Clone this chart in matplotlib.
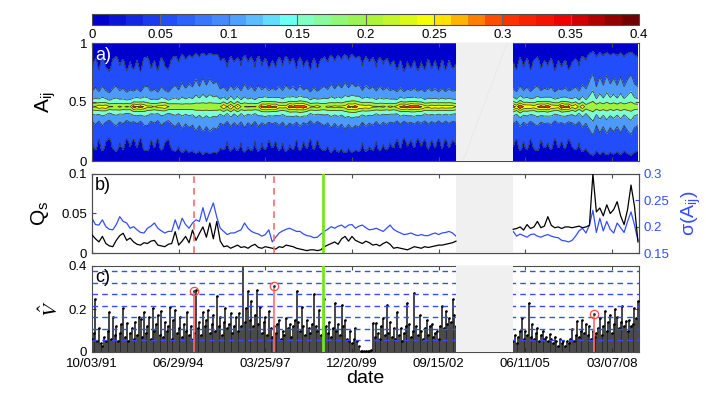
import matplotlib
matplotlib.use('Agg')
import matplotlib.pyplot as plt
import numpy as np
from matplotlib.colors import LinearSegmentedColormap, Normalize
from matplotlib.cm import ScalarMappable

plt.rcParams['font.family'] = ['Liberation Sans', 'DejaVu Sans']
plt.rcParams['mathtext.fontset'] = 'custom'
plt.rcParams['mathtext.rm'] = 'Liberation Sans'
plt.rcParams['mathtext.it'] = 'Liberation Sans:italic'

# ---- data (days counted from 10/03/91) ----
tick_days = [0, 1000, 2000, 3000, 4000, 5000, 6000]
tick_labels = ['10/03/91', '06/29/94', '03/25/97', '12/20/99', '09/15/02', '06/11/05', '03/07/08']
x_end = 6312
gap = (4200, 4860)
crisis_days = [1172, 2095]
green_day = 2670

# panel a: distribution of A_ij (two profile shapes on a y grid, weights per 40-day column)
y_grid = np.linspace(0, 1, 51)
tail_prof = [.14, .18, .24, .30, .35, .38, .40, .41, .42, .44, .47, .52, .57, .61, .65, .69,
             .73, .78, .83, .87, .91, .95, .99, 1.0, .99, .96, .92, .88, .85, .81, .76, .72, .68,
             .65, .62, .59, .56,
             .50, .46, .44, .42, .41, .40, .38, .36, .33, .28, .22, .17, .13, .10]
core_prof = [0, 0, 0, 0, 0, 0, 0, 0, 0, 0, 0, 0, .005, .01, .02, .035, .05, .08, .13, .21, .30, .45,
             .70, 1.0, .70, .45, .30, .21, .13, .08, .05, .035, .02, .01, .005, 0, 0, 0, 0, 0, 0, 0,
             0, 0, 0, 0, 0, 0, 0, 0, 0]
a_tail1 = [0.115, 0.135, 0.112, 0.14, 0.118, 0.108, 0.13, 0.142, 0.12, 0.132, 0.11,
           0.125, 0.112, 0.128, 0.108, 0.135, 0.14, 0.115, 0.128, 0.11, 0.138, 0.12, 0.112, 0.132,
           0.145, 0.125, 0.155, 0.132, 0.15, 0.138, 0.165, 0.14, 0.17, 0.145, 0.168, 0.15, 0.158, 0.128,
           0.135, 0.118, 0.142, 0.125, 0.138, 0.12, 0.15, 0.125, 0.14, 0.118, 0.145, 0.12, 0.135, 0.115, 0.128,
           0.118, 0.138, 0.12, 0.145, 0.122, 0.135, 0.115, 0.14, 0.118, 0.13, 0.112, 0.135, 0.115, 0.13,
           0.14, 0.125, 0.15, 0.128, 0.148, 0.132, 0.155, 0.13, 0.152, 0.135, 0.145, 0.12, 0.142, 0.125,
           0.138, 0.118, 0.14, 0.122, 0.135, 0.12,
           0.128, 0.112, 0.13, 0.108, 0.125, 0.115, 0.128, 0.11, 0.125, 0.112, 0.132, 0.115, 0.128, 0.11,
           0.13, 0.112, 0.128, 0.115, 0.122]
a_peak1 = [0.15, 0.12, 0.175, 0.13, 0.17, 0.145, 0.12, 0.10, 0.14, 0.11, 0.15,
           0.12, 0.21, 0.17, 0.215, 0.16, 0.12, 0.15, 0.12, 0.16, 0.13, 0.17, 0.14, 0.11,
           0.09, 0.12, 0.07, 0.11, 0.08, 0.10, 0.07, 0.11, 0.065, 0.10, 0.07, 0.095, 0.08, 0.12,
           0.16, 0.13, 0.16, 0.12, 0.165, 0.13, 0.10, 0.13, 0.11, 0.135, 0.10, 0.20, 0.17, 0.215, 0.18,
           0.20, 0.13, 0.155, 0.12, 0.21, 0.175, 0.22, 0.18, 0.22, 0.17, 0.15, 0.12, 0.16, 0.12,
           0.10, 0.14, 0.105, 0.14, 0.11, 0.13, 0.115, 0.19, 0.15, 0.19, 0.14, 0.165, 0.13, 0.16,
           0.12, 0.14, 0.11, 0.14, 0.11, 0.145,
           0.12, 0.16, 0.18, 0.215, 0.18, 0.22, 0.19, 0.215, 0.18, 0.16, 0.13, 0.17, 0.145, 0.175,
           0.14, 0.17, 0.145, 0.16, 0.13]
a_tail2 = [0.125, 0.112, 0.138, 0.118, 0.135, 0.112, 0.13, 0.14, 0.115, 0.128, 0.12, 0.135, 0.11,
           0.128, 0.118, 0.13, 0.112, 0.125, 0.135, 0.12, 0.145, 0.13, 0.16, 0.19, 0.14, 0.175, 0.145,
           0.18, 0.15, 0.17, 0.145, 0.175, 0.14, 0.165, 0.185, 0.15, 0.14]
a_peak2 = [0.20, 0.17, 0.21, 0.18, 0.15, 0.18, 0.14, 0.16, 0.21, 0.18, 0.215, 0.15, 0.175, 0.14,
           0.22, 0.18, 0.21, 0.14, 0.16, 0.12, 0.14, 0.10, 0.08, 0.05, 0.09, 0.06, 0.09, 0.055,
           0.08, 0.065, 0.085, 0.06, 0.095, 0.07, 0.05, 0.08, 0.09]

# panel b: Q_s (left) and sigma(A_ij) (right), every 40 days
qs1 = [.023, .018, .014, .021, .012, .009, .008, .016, .022, .025, .016, .019, .014, .011, .010,
       .013, .012, .015, .016, .010, .009, .008, .011, .012, .027, .010, .015, .021, .013, .029,
       .016, .025, .033, .020, .038, .018, .040, .015, .008, .009, .006, .008, .010, .007, .008,
       .006, .009, .011, .007, .006, .008, .007, .006, .005, .008, .007, .010, .009, .008, .006,
       .005, .004, .003, .004, .004, .003, .004, .008, .010, .012, .014, .011, .018, .021, .015,
       .021, .016, .014, .012, .015, .013, .010, .011, .009, .012, .014, .011, .006, .007, .006,
       .005, .004, .006, .008, .007, .006, .008, .007, .008, .009, .010, .010, .011, .012, .013, .015]
qs2 = [.030, .031, .033, .029, .036, .031, .033, .040, .032, .034, .046, .035, .032, .033, .031,
       .033, .033, .032, .033, .034, .032, .033, .035, .100, .052, .057, .047, .061, .050, .055,
       .065, .047, .036, .055, .086, .059, .014]
sig1 = [.216, .204, .203, .213, .200, .195, .194, .204, .219, .210, .207, .197, .200, .194, .189,
        .188, .197, .201, .207, .197, .192, .188, .191, .191, .213, .195, .216, .204, .197, .207,
        .213, .210, .236, .210, .228, .245, .218, .197, .191, .185, .188, .188, .191, .194, .207,
        .197, .191, .188, .186, .182, .185, .194, .171, .180, .188, .192, .195, .197, .194, .191,
        .191, .186, .183, .182, .179, .180, .186, .191, .195, .200, .197, .201, .203, .198, .203,
        .204, .197, .201, .203, .198, .194, .195, .197, .194, .191, .197, .203, .195, .191, .188,
        .185, .186, .188, .185, .183, .185, .183, .183, .186, .188, .185, .188, .189, .191, .188, .182]
sig2 = [.191, .182, .186, .183, .180, .185, .186, .182, .180, .183, .185, .182, .180, .179, .174,
        .173, .171, .174, .182, .192, .197, .188, .203, .231, .189, .216, .192, .210, .195, .188,
        .207, .198, .189, .210, .228, .203, .174]

# panel c: V-hat, every 20 days
v1 = [0.06, 0.09, 0.245, 0.05, 0.11, 0.04, 0.03, 0.07, 0.05, 0.10,
      0.185, 0.06, 0.165, 0.08, 0.12, 0.05, 0.09, 0.13, 0.205, 0.07,
      0.133, 0.05, 0.09, 0.11, 0.06, 0.14, 0.08, 0.165, 0.155, 0.07,
      0.188, 0.09, 0.12, 0.165, 0.06, 0.204, 0.10, 0.13, 0.17, 0.08,
      0.19, 0.07, 0.14, 0.10, 0.12, 0.21, 0.06, 0.15, 0.196, 0.09,
      0.11, 0.165, 0.07, 0.13, 0.10, 0.188, 0.08, 0.12, 0.06, 0.09,
      0.29, 0.11, 0.14, 0.08, 0.188, 0.12, 0.15, 0.196, 0.09, 0.13,
      0.17, 0.10, 0.26, 0.12, 0.165, 0.08, 0.14, 0.204, 0.11, 0.13,
      0.18, 0.09, 0.12, 0.165, 0.10, 0.18, 0.12, 0.41, 0.14, 0.204,
      0.284, 0.15, 0.235, 0.12, 0.17, 0.29, 0.13, 0.21, 0.09, 0.14,
      0.165, 0.08, 0.19, 0.11, 0.07, 0.12, 0.09, 0.13, 0.15, 0.06,
      0.10, 0.08, 0.16, 0.11, 0.13, 0.07, 0.12, 0.15, 0.284, 0.14,
      0.10, 0.21, 0.12, 0.08, 0.15, 0.11, 0.09, 0.13, 0.268, 0.12,
      0.10, 0.196, 0.08, 0.11, 0.245, 0.12, 0.09, 0.14, 0.07, 0.11,
      0.227, 0.10, 0.13, 0.08, 0.22, 0.12, 0.15, 0.06, 0.05, 0.10,
      0.04, 0.06, 0.11, 0.05, 0.03, 0.005, 0.005, 0.004, 0.005, 0.006,
      0.005, 0.008, 0.135, 0.07, 0.135, 0.09, 0.06, 0.12, 0.16, 0.08,
      0.22, 0.09, 0.14, 0.07, 0.11, 0.06, 0.188, 0.08, 0.11, 0.05,
      0.09, 0.12, 0.227, 0.13, 0.07, 0.10, 0.276, 0.12, 0.08, 0.174,
      0.10, 0.06, 0.11, 0.15, 0.08, 0.12, 0.13, 0.07, 0.09, 0.10,
      0.06, 0.12, 0.215, 0.11, 0.19, 0.13, 0.16, 0.14, 0.245, 0.17, 0.12]
v2 = [0.05, 0.08, 0.04, 0.07, 0.10, 0.158, 0.06, 0.10, 0.08, 0.229,
      0.07, 0.13, 0.06, 0.09, 0.11, 0.05, 0.08, 0.10, 0.06, 0.07,
      0.05, 0.085, 0.06, 0.04, 0.07, 0.05, 0.03, 0.06, 0.04, 0.05,
      0.03, 0.05, 0.04, 0.06, 0.105, 0.05, 0.08, 0.143, 0.07, 0.10,
      0.15, 0.09, 0.13, 0.08, 0.12, 0.06, 0.10, 0.07, 0.09, 0.11,
      0.16, 0.08, 0.12, 0.19, 0.10, 0.14, 0.17, 0.09, 0.13, 0.198,
      0.165, 0.11, 0.14, 0.213, 0.12, 0.143, 0.10, 0.15, 0.12, 0.13, 0.205, 0.16, 0.237]
red_days = [1172, 2095, 5792]
red_vals = [0.282, 0.306, 0.179]
v_levels = [0.054, 0.108, 0.162, 0.216, 0.269, 0.322, 0.375]

days_b1 = np.arange(0, 4201, 40)
days_b2 = np.arange(4860, 6301, 40)
days_c1 = np.arange(0, 4201, 20)
days_c2 = np.arange(4860, 6301, 20)

# ---- colours ----
cb_pos = [0, 0.05, 0.1, 0.125, 0.14, 0.15, 0.2, 0.25, 0.27, 0.3, 0.35, 0.4]
cb_rgb = [(0, 0, 0.8), (0.13, 0.3, 0.98), (0.3, 0.6, 1.0), (0.38, 0.82, 1.0), (0.4, 1.0, 1.0),
          (0.5, 1.0, 0.82), (0.62, 0.95, 0.25), (1.0, 1.0, 0.0), (1.0, 0.72, 0.0),
          (1.0, 0.25, 0.0), (0.93, 0.0, 0.0), (0.45, 0.0, 0.0)]
cmap_fine = LinearSegmentedColormap.from_list('cb', list(zip(np.array(cb_pos) / 0.4, cb_rgb)), N=32)
cmap_full = LinearSegmentedColormap.from_list('cbf', list(zip(np.array(cb_pos) / 0.4, cb_rgb)), N=256)
levels = [0, 0.05, 0.1, 0.15, 0.2, 0.25, 0.3, 0.35, 0.4]
band_colors = [cmap_full(l / 0.4) for l in levels[:-1]]

blue = (0.2, 0.3, 1.0)
red = (1.0, 0.42, 0.42)
green = (0.45, 0.9, 0.1)
gap_col = '0.94'
spine_col = '0.3'

fig = plt.figure(figsize=(7.06, 3.96), dpi=100)
L, W = 92 / 706, 547 / 706
cax = fig.add_axes([L, 1 - 25 / 396, W, 11 / 396])
ax_a = fig.add_axes([L, 1 - 161 / 396, W, 118 / 396])
ax_b = fig.add_axes([L, 1 - 253 / 396, W, 79 / 396])
ax_c = fig.add_axes([L, 1 - 352 / 396, W, 86 / 396])

# colorbar
sm = ScalarMappable(norm=Normalize(0, 0.4), cmap=cmap_fine)
cb = fig.colorbar(sm, cax=cax, orientation='horizontal')
cb.set_ticks(levels)
cb.set_ticklabels(['0', '0.05', '0.1', '0.15', '0.2', '0.25', '0.3', '0.35', '0.4'])
cax.tick_params(length=0, labelsize=9.5, pad=3)
for l in levels[1:-1]:
    cax.axvline(l, color='0.4', lw=0.8)
cb.outline.set_edgecolor('0.3')
cb.outline.set_linewidth(0.8)

# panel a
for d_days, pk, tl in [(days_b1, a_peak1, a_tail1), (days_b2, a_peak2, a_tail2)]:
    Z = np.outer(pk, core_prof) + np.outer(tl, tail_prof)
    ax_a.contourf(d_days, y_grid, Z.T, levels=levels, colors=band_colors)
    ax_a.contour(d_days, y_grid, Z.T, levels=levels[1:-1], colors='0.22', linewidths=0.55)
ax_a.axvspan(*gap, color=gap_col, zorder=5, lw=0)
ax_a.plot([4280, 4790], [0, 1], color='0.9', lw=0.5, zorder=6)
ax_a.set_ylim(0, 1)
ax_a.set_yticks([0, 0.5, 1])
ax_a.set_yticklabels(['0', '0.5', '1'])
ax_a.set_ylabel('A$_{\\mathrm{ij}}$', fontsize=15)
ax_a.yaxis.set_label_coords(-0.062, 0.5)
ax_a.text(0.006, 0.97, 'a)', color='white', fontsize=13, transform=ax_a.transAxes, va='top', zorder=10)

# panel b
ax_b.axvspan(*gap, color=gap_col, lw=0, zorder=0)
ax_b2 = ax_b.twinx()
ax_b2.plot(days_b1, sig1, color=blue, lw=0.9)
ax_b2.plot(days_b2, sig2, color=blue, lw=0.9)
ax_b.plot(days_b1, qs1, color='k', lw=0.9, zorder=3)
ax_b.plot(days_b2, qs2, color='k', lw=0.9, zorder=3)
for d in crisis_days:
    ax_b.axvline(d, color=red, lw=1.2, ls=(0, (4, 3)), zorder=4)
ax_b.axvline(green_day, color=green, lw=2, zorder=4)
ax_b.set_zorder(ax_b2.get_zorder() + 1)
ax_b.patch.set_visible(False)
ax_b.set_ylim(0, 0.1)
ax_b.set_yticks([0, 0.05, 0.1])
ax_b.set_yticklabels(['0', '0.05', '0.1'])
ax_b2.set_ylim(0.15, 0.3)
ax_b2.set_yticks([0.15, 0.2, 0.25, 0.3])
ax_b2.set_yticklabels(['0.15', '0.2', '0.25', '0.3'])
ax_b2.tick_params(axis='y', colors=blue, labelsize=9.5, direction='in', length=3)
ax_b2.set_ylabel('σ(A$_{\\mathrm{ij}}$)', color=blue, fontsize=14, rotation=90)
ax_b2.yaxis.set_label_coords(1.075, 0.5)
for s in ax_b2.spines.values():
    s.set_color(spine_col)
    s.set_linewidth(0.8)
ax_b.set_ylabel('Q$_{\\mathrm{s}}$', fontsize=15)
ax_b.yaxis.set_label_coords(-0.075, 0.5)
ax_b.text(0.006, 0.96, 'b)', color='k', fontsize=13, transform=ax_b.transAxes, va='top')

# panel c
ax_c.vlines(days_c1, 0, v1, color='0.15', lw=1.2, zorder=2)
ax_c.vlines(days_c2, 0, v2, color='0.15', lw=1.2, zorder=2)
ax_c.plot(days_c1, v1, 'k.', ms=1.8, zorder=3)
ax_c.plot(days_c2, v2, 'k.', ms=1.8, zorder=3)
for lv in v_levels:
    ax_c.axhline(lv, color=blue, lw=1.0, ls=(0, (4, 3)), zorder=4)
ax_c.vlines(red_days, 0, red_vals, color=red, lw=1.2, zorder=5)
ax_c.plot(red_days, red_vals, 'o', mfc='none', mec=(1, 0.3, 0.3), ms=6, mew=0.9, zorder=6)
ax_c.plot(red_days, red_vals, '.', color='0.2', ms=2, zorder=6)
ax_c.axvline(green_day, color=green, lw=2, zorder=5)
ax_c.axvspan(*gap, color=gap_col, lw=0, zorder=7)
ax_c.set_ylim(0, 0.4)
ax_c.set_yticks([0, 0.2, 0.4])
ax_c.set_yticklabels(['0', '0.2', '0.4'])
ax_c.set_ylabel('$\\hat{V}$', fontsize=15, math_fontfamily='stix')
ax_c.yaxis.set_label_coords(-0.055, 0.5)
ax_c.text(0.006, 0.96, 'c)', color='k', fontsize=13, transform=ax_c.transAxes, va='top', zorder=10)

for ax in (ax_a, ax_b, ax_c):
    ax.set_xlim(0, x_end)
    ax.set_xticks(tick_days)
    ax.tick_params(direction='in', length=3, top=True, labelsize=9.5, color=spine_col)
    for s in ax.spines.values():
        s.set_color(spine_col)
        s.set_linewidth(0.8)
ax_a.tick_params(right=True, labelbottom=False)
ax_b.tick_params(labelbottom=False)
ax_c.tick_params(right=True)
ax_c.tick_params(axis='x', pad=4.5)
ax_c.set_xticklabels(tick_labels)
ax_c.set_xlabel('date', fontsize=14, labelpad=0)

fig.savefig('out.png', dpi=100)
